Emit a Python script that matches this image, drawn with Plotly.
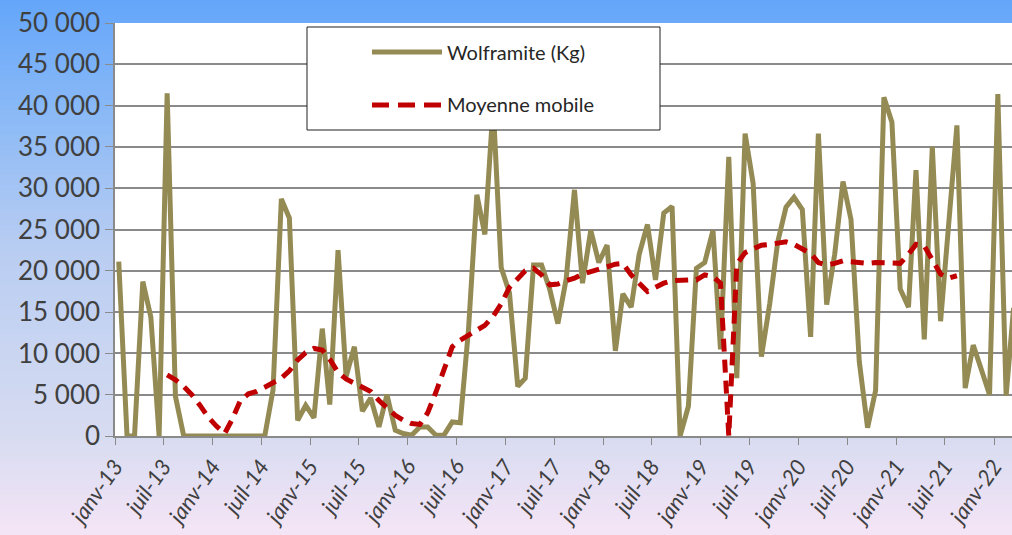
import plotly.graph_objects as go
import pandas as pd

# monthly production, janv-13 .. mars-22 (Kg)
wolframite = [21100, 0, 0, 18700, 14400, 0, 41500, 4800, 0, 0,
              0, 0, 0, 0, 0, 0, 0, 0, 0, 5600,
              28700, 26400, 1900, 3700, 2200, 13000, 3800, 22500, 7200, 10800,
              3000, 4600, 1100, 5000, 700, 300, 100, 1100, 1100, 100,
              100, 1700, 1600, 13000, 29200, 24400, 40000, 20400, 17300, 6000,
              7000, 20700, 20700, 17700, 13600, 19000, 29800, 18500, 24900, 21000,
              23100, 10300, 17200, 15600, 22000, 25600, 18900, 27000, 27800, 0,
              3600, 20300, 21000, 24900, 10500, 33800, 7000, 36600, 30600, 9600,
              16000, 23500, 27700, 28900, 27400, 12000, 36600, 15900, 22000, 30800,
              26200, 9000, 1000, 5500, 41000, 38000, 17800, 15600, 32200, 11700,
              35000, 13900, 26000, 37600, 5800, 11000, 8000, 5000, 41400, 4900, 15500]

# moving average, starts at juil-13 (7th month)
ma_start = 6
moyenne = [7400, 6800, 6000, 5000, 3700, 2300, 1200, 300, 2000, 4300,
           5100, 5400, 5900, 6500, 7000, 7900, 9200, 10100, 10600, 10400,
           9300, 7700, 6900, 6400, 5900, 5400, 4300, 3500, 2500, 1900,
           1500, 1400, 2800, 5300, 7800, 10800, 11600, 12200, 12800, 13400,
           14500, 16000, 18000, 19100, 20000, 20300, 19500, 18300, 18400, 18800,
           19100, 19600, 19900, 20100, 20500, 20800, 20900, 19500, 18500, 17500,
           18000, 18500, 18800, 18900, 18900, 18900, 19500, 19300, 18500, 0,
           20800, 22200, 22700, 23100, 23200, 23300, 23500, 23200, 22700, 22100,
           21000, 20700, 20900, 21200, 21100, 21000, 20900, 21000, 21000, 20900,
           20900, 22000, 23200, 23000, 21300, 19600, 19100, 19400]

tick_dates = pd.date_range('2013-01-01', '2022-01-01', freq='6MS')
tick_labels = ['janv-13', 'juil-13', 'janv-14', 'juil-14', 'janv-15', 'juil-15',
               'janv-16', 'juil-16', 'janv-17', 'juil-17', 'janv-18', 'juil-18',
               'janv-19', 'juil-19', 'janv-20', 'juil-20', 'janv-21', 'juil-21',
               'janv-22']

# points sit between the tick marks (middle of each month), as in Excel
months = pd.date_range('2013-01-01', periods=len(wolframite), freq='MS') + pd.Timedelta(days=14)
ma_months = months[ma_start:ma_start + len(moyenne)]

W, H = 1012, 535
ML, MT, MB = 115, 23, 99
plot_h = H - MT - MB
plot_w = W - ML

fig = go.Figure()

fig.add_trace(go.Scatter(x=months, y=wolframite, mode='lines',
                         line=dict(color='#948A54', width=5),
                         name='Wolframite (Kg)', showlegend=False))
fig.add_trace(go.Scatter(x=ma_months, y=moyenne, mode='lines',
                         line=dict(color='#C00000', width=5, dash='13px,8px'),
                         name='Moyenne mobile', showlegend=False))

# background gradient (blue at top to pale lavender at bottom)
stops = [(0, (100, 166, 250)), (120, (140, 186, 246)), (250, (185, 205, 242)),
         (430, (214, 219, 241)), (535, (245, 229, 246))]

def grad(py):
    for (a, ca), (b, cb) in zip(stops[:-1], stops[1:]):
        if a <= py <= b:
            t = (py - a) / (b - a)
            return 'rgb(%d,%d,%d)' % tuple(round(ca[k] + (cb[k] - ca[k]) * t) for k in range(3))
    return 'rgb(%d,%d,%d)' % stops[-1][1]

def py2paper(py):
    return (H - MB - py) / plot_h

shapes = []
step = 5
for py in range(0, H, step):
    shapes.append(dict(type='rect', xref='paper', yref='paper', layer='below',
                       x0=-0.2, x1=1.1, y0=py2paper(py + step + 1), y1=py2paper(py),
                       fillcolor=grad(py + step / 2), line=dict(width=0)))
shapes.append(dict(type='rect', xref='paper', yref='paper', layer='below',
                   x0=0, x1=1, y0=0, y1=1, fillcolor='white', line=dict(width=0)))

# legend box
def px2x(px):
    return (px - ML) / plot_w

shapes.append(dict(type='rect', xref='paper', yref='paper', layer='above',
                   x0=px2x(307), x1=px2x(660), y0=py2paper(130), y1=py2paper(27),
                   fillcolor='white', line=dict(color='#202020', width=1)))
shapes.append(dict(type='line', xref='paper', yref='paper', layer='above',
                   x0=px2x(372), x1=px2x(442), y0=py2paper(52), y1=py2paper(52),
                   line=dict(color='#948A54', width=5)))
shapes.append(dict(type='line', xref='paper', yref='paper', layer='above',
                   x0=px2x(372), x1=px2x(442), y0=py2paper(105), y1=py2paper(105),
                   line=dict(color='#C00000', width=5, dash='17px,9px')))

annotations = [
    dict(text='Wolframite (Kg)', xref='paper', yref='paper', x=px2x(445), y=py2paper(52),
         xanchor='left', yanchor='middle', showarrow=False,
         font=dict(family='Lato', size=20, color='#262626')),
    dict(text='Moyenne mobile', xref='paper', yref='paper', x=px2x(445), y=py2paper(104),
         xanchor='left', yanchor='middle', showarrow=False,
         font=dict(family='Lato', size=20, color='#262626')),
]

fig.update_layout(
    width=W, height=H,
    margin=dict(l=ML, r=0, t=MT, b=MB, autoexpand=False),
    paper_bgcolor='rgb(214,219,241)',
    plot_bgcolor='white',
    separators=', ',
    showlegend=False,
    shapes=shapes,
    annotations=annotations,
    xaxis=dict(type='date', range=['2013-01-01', '2022-03-09'],
               tickmode='array', tickvals=tick_dates, ticktext=tick_labels,
               tickangle=-55, ticks='outside', ticklen=7, tickcolor='#8a8a8a',
               showgrid=False, showline=True, linecolor='#8a8a8a', linewidth=1.5,
               tickfont=dict(family='Lato', size=22, color='#404040', style='italic')),
    yaxis=dict(range=[0, 50000], dtick=5000, tickformat=',d',
               ticks='outside', ticklen=8, tickcolor='#8a8a8a',
               showgrid=True, gridcolor='#8a8a8a', gridwidth=1.5,
               showline=True, linecolor='#8a8a8a', linewidth=1.5, zeroline=False,
               tickfont=dict(family='Lato', size=26, color='#404040')),
)

# page body has a default margin; remove it so the chart fills the window
fig.write_html("out.html", config={'displayModeBar': False},
               post_script="document.body.style.margin='0';")
